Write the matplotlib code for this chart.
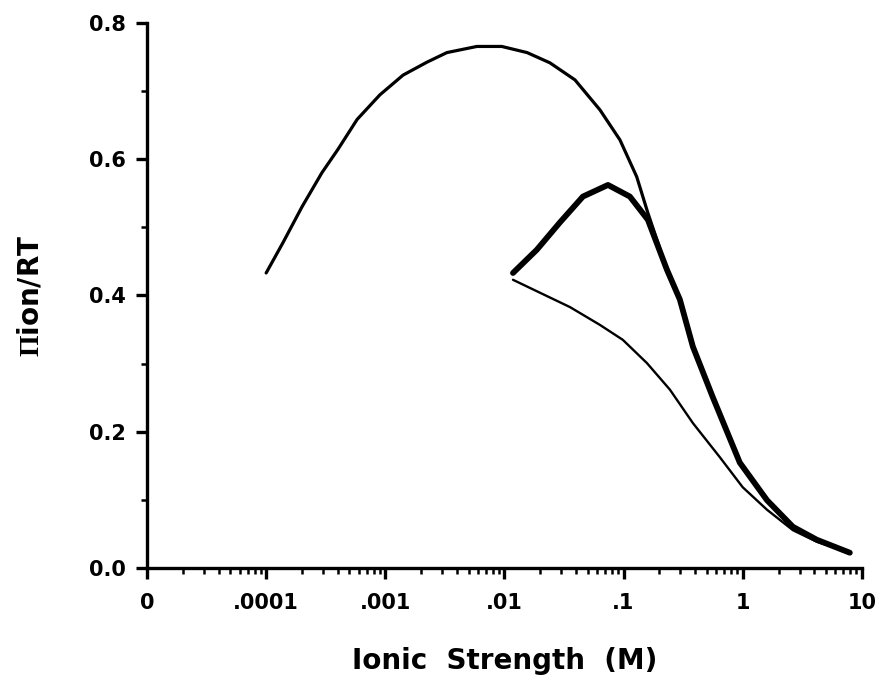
import matplotlib
matplotlib.use("Agg")
import matplotlib.pyplot as plt
from matplotlib.ticker import FixedLocator, LogLocator, NullFormatter, MultipleLocator

plt.rcParams['font.family'] = ['DejaVu Sans']
plt.rcParams['font.weight'] = 'bold'
plt.rcParams['mathtext.fontset'] = 'custom'
plt.rcParams['mathtext.rm'] = 'Liberation Serif'

# upper curve (thin), merges into the thick curve above ~0.16 M
upper_x = [0.0001, 0.000138, 0.0002, 0.000294, 0.0004, 0.00058, 0.0009, 0.00141,
           0.00224, 0.00329, 0.00587, 0.0095, 0.0155, 0.0241, 0.0391, 0.0634,
           0.0933, 0.129, 0.160, 0.231, 0.297, 0.382, 0.561, 0.946, 1.60,
           2.64, 4.19, 7.93]
upper_y = [0.433, 0.477, 0.530, 0.580, 0.614, 0.658, 0.694, 0.723,
           0.742, 0.756, 0.765, 0.765, 0.756, 0.741, 0.716, 0.672,
           0.628, 0.574, 0.521, 0.438, 0.394, 0.325, 0.251, 0.155, 0.100,
           0.061, 0.042, 0.023]

# middle curve (thick)
mid_x = [0.0118, 0.0187, 0.0292, 0.0456, 0.0740, 0.113, 0.160, 0.231, 0.297,
         0.382, 0.561, 0.946, 1.60, 2.64, 4.19, 7.93]
mid_y = [0.433, 0.467, 0.507, 0.545, 0.562, 0.545, 0.511, 0.438, 0.394,
         0.325, 0.251, 0.155, 0.100, 0.061, 0.042, 0.023]

# lower curve (thin)
low_x = [0.0118, 0.0199, 0.0355, 0.0632, 0.0986, 0.157, 0.245, 0.382, 0.643,
         1.0, 1.60, 2.64, 4.19, 7.93]
low_y = [0.423, 0.404, 0.383, 0.357, 0.335, 0.301, 0.262, 0.213, 0.163,
         0.119, 0.086, 0.056, 0.039, 0.023]

xticks = [1e-5, 1e-4, 1e-3, 1e-2, 1e-1, 1, 10]
xticklabels = ['0', '.0001', '.001', '.01', '.1', '1', '10']
yticks = [0.0, 0.2, 0.4, 0.6, 0.8]

fig = plt.figure(figsize=(8.83, 6.84), dpi=100)
ax = fig.add_axes([0.1665, 0.169, 0.8095, 0.798])

ax.plot(upper_x, upper_y, color='black', lw=2.3, solid_capstyle='round', solid_joinstyle='round')
ax.plot(mid_x, mid_y, color='black', lw=4.2, solid_capstyle='round', solid_joinstyle='round')
ax.plot(low_x, low_y, color='black', lw=1.7, solid_capstyle='round', solid_joinstyle='round')

ax.set_xscale('log')
ax.set_xlim(1e-5, 10)
ax.set_ylim(0, 0.8)

ax.xaxis.set_major_locator(FixedLocator(xticks))
ax.set_xticklabels(xticklabels)
ax.xaxis.set_minor_locator(LogLocator(base=10, subs=range(2, 10)))
ax.xaxis.set_minor_formatter(NullFormatter())
ax.set_yticks(yticks)
ax.set_yticklabels(['%.1f' % v for v in yticks])
ax.yaxis.set_minor_locator(MultipleLocator(0.1))

for s in ['top', 'right']:
    ax.spines[s].set_visible(False)
for s in ['left', 'bottom']:
    ax.spines[s].set_linewidth(2.4)

ax.tick_params(which='major', direction='out', length=8, width=2.4, labelsize=15)
ax.tick_params(axis='x', which='major', pad=10)
ax.tick_params(axis='y', which='major', pad=7)
ax.tick_params(which='minor', direction='out', length=4.5, width=1.8)

ax.set_xlabel('Ionic  Strength  (M)', fontsize=20, fontweight='bold', labelpad=24)
ax.set_ylabel(r'$\mathrm{\Pi}$ion/RT', fontsize=20, fontweight='bold', labelpad=32)

fig.savefig('out.png', dpi=100)
